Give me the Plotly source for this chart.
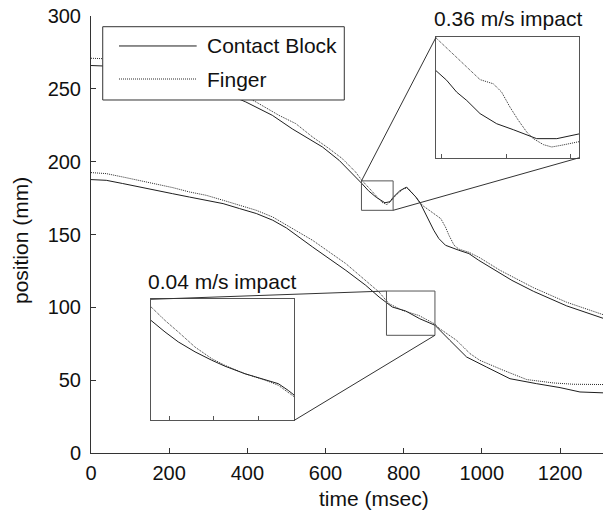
import plotly.graph_objects as go

# ---------------- data ----------------
# 0.36 m/s impact (upper pair)
t_block_fast = [0, 100, 200, 300, 396, 464, 515, 550, 592, 635, 669, 692, 710, 730, 752, 765, 773,
                790, 807, 831, 843, 856, 865, 877, 890, 907, 941, 967, 992, 1035, 1077, 1132, 1217, 1310]
y_block_fast = [266, 265, 260, 252, 241, 231.8, 222.5, 217, 210.1, 200.9, 191.8, 185.3, 180, 175.5, 171.8, 172.5, 175.5,
                180, 182.5, 175.8, 171.2, 164.3, 158.6, 152.9, 147.2, 142.6, 139.2, 136.9, 132.3, 125.5, 118.5, 111, 101, 92.5]
t_finger_fast = [0, 100, 200, 300, 422, 481, 524, 567, 609, 643, 677, 692, 711, 730, 745, 757, 768,
                 780, 800, 810, 831, 848, 873, 895, 907, 916, 929, 941, 967, 995, 1046, 1132, 1217, 1310]
y_finger_fast = [271, 270, 266, 258, 241, 231.8, 226.1, 216.9, 209, 202.1, 192.9, 187.5, 182, 176.5, 172, 170.5, 173,
                 177, 181.5, 182, 175.8, 170, 165.4, 160.9, 155.1, 149.4, 142.6, 140, 137.8, 134, 125.5, 113.5, 103.5, 95]

# 0.04 m/s impact (lower pair)
t_block_slow = [0, 39, 81, 124, 167, 209, 252, 295, 338, 380, 423, 465, 500, 567, 652, 703, 737, 771, 805,
                841, 880, 918, 961, 1012, 1072, 1140, 1200, 1251, 1310]
y_block_slow = [187.7, 187.2, 185, 182.6, 179.9, 178, 175.7, 173.5, 171.2, 167.8, 164.4, 159.8, 154.5, 141.4, 125.4,
                115.1, 107.1, 100.2, 97.5, 92.2, 87.7, 77.4, 65.9, 59, 51, 47.6, 44.9, 41.9, 41.3]
t_finger_slow = [0, 39, 81, 124, 167, 209, 252, 295, 338, 380, 423, 465, 500, 567, 652, 703, 737, 762, 796,
                 839, 880, 892, 935, 970, 995, 1055, 1115, 1183, 1234, 1310]
y_finger_slow = [192.5, 191.8, 189.5, 187.2, 184.5, 182.2, 179.2, 176.9, 173.5, 170, 166.6, 162, 156.5, 146, 130,
                 118.6, 110.5, 102.6, 98, 94.4, 88.5, 85.4, 77.4, 68.2, 63.6, 56.8, 50.4, 48.1, 47.2, 47]

# magnified views
inset_fast_t_block = [692, 698, 703.7, 709.4, 716.9, 726.3, 735.7, 743.3, 748.9, 760.3, 765.9, 773]
inset_fast_block = [181.2, 179.6, 177.6, 176.2, 174.0, 172.3, 171.3, 170.4, 169.8, 169.8, 170.1, 170.6]
inset_fast_t_finger = [692, 699.9, 707.4, 713, 716.9, 724.4, 729.1, 733.8, 738.5, 743.3, 747, 752.7, 757.4,
                       763.1, 768.7, 773]
inset_fast_finger = [186.7, 184.5, 182.4, 180.7, 179.7, 179.0, 177.6, 175.1, 172.9, 170.9, 169.8, 168.8, 168.4,
                     168.7, 169, 169.3]
inset_slow_t = [756, 768.1, 779.6, 794.1, 808.5, 820, 837.3, 854.6, 866.2, 874.8, 880]
inset_slow_finger = [109.3, 105.9, 103.0, 99.2, 96.3, 94.6, 92.5, 90.9, 89.6, 87.9, 86.7]
inset_slow_block = [105.9, 103.0, 100.5, 98.0, 95.9, 94.4, 92.5, 91.1, 90.0, 88.3, 87.1]

# zoom windows
zoom_fast_x = [692, 773]
zoom_fast_y = [166.6, 186.8]
zoom_slow_x = [756, 880]
zoom_slow_y = [80.8, 111.2]
inset_fast_ticks = [695, 732, 768]
inset_slow_ticks = [772, 810, 849]

x_ticks = [0, 200, 400, 600, 800, 1000, 1200]
y_ticks = [0, 50, 100, 150, 200, 250, 300]
X_MAX = 1310
Y_MAX = 300

series_names = ["Contact Block", "Finger"]
impact_labels = ["0.36 m/s impact", "0.04 m/s impact"]

# ---------------- style ----------------
FONT = "Liberation Sans, Arial, Helvetica, sans-serif"
BLOCK_LINE = dict(color="#1e1e1e", width=1)
FINGER_LINE = dict(color="#2a2a2a", width=1, dash="1px,1px")
BOX_COLOR = "#555555"
CONN_COLOR = "#333333"

# inset domains (paper fractions)
ins1_dx, ins1_dy = [0.6738, 0.9537], [0.6757, 0.9513]
ins2_dx, ins2_dy = [0.1172, 0.3971], [0.0748, 0.3517]

fig = go.Figure()

# main curves
fig.add_trace(go.Scatter(x=t_block_fast, y=y_block_fast, mode="lines", name=series_names[0], line=BLOCK_LINE,
                         xaxis="x", yaxis="y"))
fig.add_trace(go.Scatter(x=t_finger_fast, y=y_finger_fast, mode="lines", name=series_names[1], line=FINGER_LINE,
                         xaxis="x", yaxis="y"))
fig.add_trace(go.Scatter(x=t_block_slow, y=y_block_slow, mode="lines", name=series_names[0], line=BLOCK_LINE,
                         xaxis="x", yaxis="y"))
fig.add_trace(go.Scatter(x=t_finger_slow, y=y_finger_slow, mode="lines", name=series_names[1], line=FINGER_LINE,
                         xaxis="x", yaxis="y"))
# inset 1
fig.add_trace(go.Scatter(x=inset_fast_t_block, y=inset_fast_block, mode="lines", name=series_names[0],
                         line=BLOCK_LINE, xaxis="x2", yaxis="y2"))
fig.add_trace(go.Scatter(x=inset_fast_t_finger, y=inset_fast_finger, mode="lines", name=series_names[1],
                         line=FINGER_LINE, xaxis="x2", yaxis="y2"))
# inset 2
fig.add_trace(go.Scatter(x=inset_slow_t, y=inset_slow_block, mode="lines", name=series_names[0],
                         line=BLOCK_LINE, xaxis="x3", yaxis="y3"))
fig.add_trace(go.Scatter(x=inset_slow_t, y=inset_slow_finger, mode="lines", name=series_names[1],
                         line=FINGER_LINE, xaxis="x3", yaxis="y3"))

axis_common = dict(showline=True, linecolor="#333333", linewidth=1, showgrid=False, zeroline=False,
                   ticks="inside", tickcolor="#333333")

inset_x = dict(showline=True, mirror=True, linecolor=BOX_COLOR, linewidth=1, showgrid=False, zeroline=False,
               ticks="inside", ticklen=4, tickcolor=BOX_COLOR, showticklabels=False)
inset_y = dict(showline=True, mirror=True, linecolor=BOX_COLOR, linewidth=1, showgrid=False, zeroline=False,
               ticks="", showticklabels=False)

fig.update_layout(
    width=603, height=515,
    margin=dict(l=91, r=0, t=16, b=62, pad=0),
    paper_bgcolor="white", plot_bgcolor="white",
    showlegend=False,
    font=dict(family=FONT, size=20, color="#111111"),
    xaxis=dict(axis_common, range=[0, X_MAX], tickvals=x_ticks, ticklen=5, domain=[0, 1],
               ticklabelstandoff=2),
    yaxis=dict(axis_common, range=[0, Y_MAX], tickvals=y_ticks, ticklen=5, domain=[0, 1],
               ticklabelstandoff=5),
    xaxis2=dict(inset_x, domain=ins1_dx, anchor="y2", range=zoom_fast_x, tickvals=inset_fast_ticks),
    yaxis2=dict(inset_y, domain=ins1_dy, anchor="x2", range=zoom_fast_y),
    xaxis3=dict(inset_x, domain=ins2_dx, anchor="y3", range=zoom_slow_x, tickvals=inset_slow_ticks),
    yaxis3=dict(inset_y, domain=ins2_dy, anchor="x3", range=zoom_slow_y),
)

shapes = []
# zoom windows on the main axes
for zx, zy in [(zoom_fast_x, zoom_fast_y), (zoom_slow_x, zoom_slow_y)]:
    shapes.append(dict(type="rect", xref="x", yref="y", x0=zx[0], x1=zx[1], y0=zy[0], y1=zy[1],
                       line=dict(color=BOX_COLOR, width=1), layer="above"))


def px(v):
    return v / X_MAX


def py(v):
    return v / Y_MAX


# connectors (zoom window corner -> inset corner)
connectors = [
    ((px(zoom_fast_x[0]), py(zoom_fast_y[1])), (ins1_dx[0], ins1_dy[1])),
    ((px(zoom_fast_x[1]), py(zoom_fast_y[0])), (ins1_dx[1], ins1_dy[0])),
    ((px(zoom_slow_x[0]), py(zoom_slow_y[1])), (ins2_dx[0], ins2_dy[1])),
    ((px(zoom_slow_x[1]), py(zoom_slow_y[0])), (ins2_dx[1], ins2_dy[0])),
]
for (a, b) in connectors:
    shapes.append(dict(type="line", xref="paper", yref="paper", x0=a[0], y0=a[1], x1=b[0], y1=b[1],
                       line=dict(color=CONN_COLOR, width=1), layer="above"))

# legend box (drawn manually, MATLAB style)
lg_x0, lg_x1, lg_y0, lg_y1 = 0.0229, 0.4947, 0.8078, 0.9755
shapes.append(dict(type="rect", xref="paper", yref="paper", x0=lg_x0, x1=lg_x1, y0=lg_y0, y1=lg_y1,
                   line=dict(color="#333333", width=1), fillcolor="white", layer="above"))
shapes.append(dict(type="line", xref="paper", yref="paper", x0=0.0547, x1=0.2064, y0=0.9314, y1=0.9314,
                   line=BLOCK_LINE, layer="above"))
shapes.append(dict(type="line", xref="paper", yref="paper", x0=0.0547, x1=0.2064, y0=0.8558, y1=0.8558,
                   line=FINGER_LINE, layer="above"))
fig.update_layout(shapes=shapes)

ann_font = dict(family=FONT, size=21, color="#111111")
annotations = [
    dict(text=series_names[0], xref="paper", yref="paper", x=0.2227, y=0.9314, xanchor="left", yanchor="middle",
         showarrow=False, font=ann_font),
    dict(text=series_names[1], xref="paper", yref="paper", x=0.2227, y=0.8558, xanchor="left", yanchor="middle",
         showarrow=False, font=ann_font),
    dict(text=impact_labels[0], xref="paper", yref="paper", x=0.8139, y=0.9947, xanchor="center",
         yanchor="middle", showarrow=False, font=ann_font),
    dict(text=impact_labels[1], xref="paper", yref="paper", x=0.2553, y=0.392, xanchor="center",
         yanchor="middle", showarrow=False, font=ann_font),
    dict(text="time (msec)", xref="paper", yref="paper", x=0.5524, y=-0.105, xanchor="center",
         yanchor="middle", showarrow=False, font=ann_font),
    dict(text="position (mm)", xref="paper", yref="paper", x=-0.1387, y=0.4874, xanchor="center",
         yanchor="middle", showarrow=False, textangle=-90, font=ann_font),
]
fig.update_layout(annotations=annotations)

fig.write_html("out.html", config={"displayModeBar": False},
               post_script="document.body.style.margin='0px';")
